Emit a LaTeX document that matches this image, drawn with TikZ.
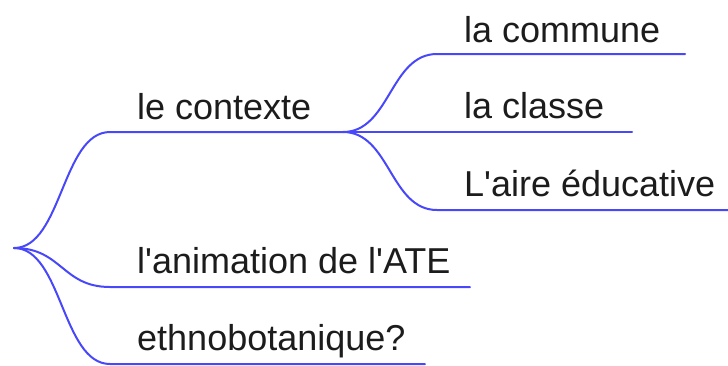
\documentclass[tikz,border=0pt]{standalone}
\usepackage{fontspec}
\setmainfont{Liberation Sans}
\definecolor{linkblue}{RGB}{72,72,250}
\definecolor{txt}{RGB}{28,28,28}
\tikzset{
  link/.style={draw=linkblue, line width=2pt, line cap=round},
  lbl/.style={anchor=base west, inner sep=0pt, text=txt, font=\fontsize{36}{40}\selectfont}
}
\begin{document}
\begin{tikzpicture}[x=1pt,y=-1pt]
\useasboundingbox (0,0) rectangle (728,365);
% junction / underline coordinates
\coordinate (root) at (14,248);
\coordinate (ctxS) at (110,132);
\coordinate (ctxE) at (343,132);
\coordinate (comS) at (437,54);
\coordinate (comE) at (685,54);
\coordinate (claE) at (632,132);
\coordinate (aireS) at (437,210);
\coordinate (aireE) at (728,210);
\coordinate (aniS) at (110,287);
\coordinate (aniE) at (470,287);
\coordinate (ethS) at (110,364);
\coordinate (ethE) at (425,364);
% labels
\node[lbl] (ctx) at (137,119) {le contexte};
\node[lbl] (com) at (464,42) {la commune};
\node[lbl] (cla) at (464,118) {la classe};
\node[lbl] (aire) at (464,196) {L\textquotesingle aire éducative};
\node[lbl] (ani) at (137,273) {l\textquotesingle animation de l\textquotesingle ATE};
\node[lbl] (eth) at (137,350) {ethnobotanique?};
% links
\draw[link] (root) .. controls +(48,0) and +(-48,0) .. (ctxS) -- (ctxE);
\draw[link] (root) .. controls +(48,0) and +(-48,0) .. (aniS) -- (aniE);
\draw[link] (root) .. controls +(48,0) and +(-48,0) .. (ethS) -- (ethE);
\draw[link] (ctxE) .. controls +(47,0) and +(-47,0) .. (comS) -- (comE);
\draw[link] (ctxE) -- (claE);
\draw[link] (ctxE) .. controls +(47,0) and +(-47,0) .. (aireS) -- (aireE);
\end{tikzpicture}
\end{document}
